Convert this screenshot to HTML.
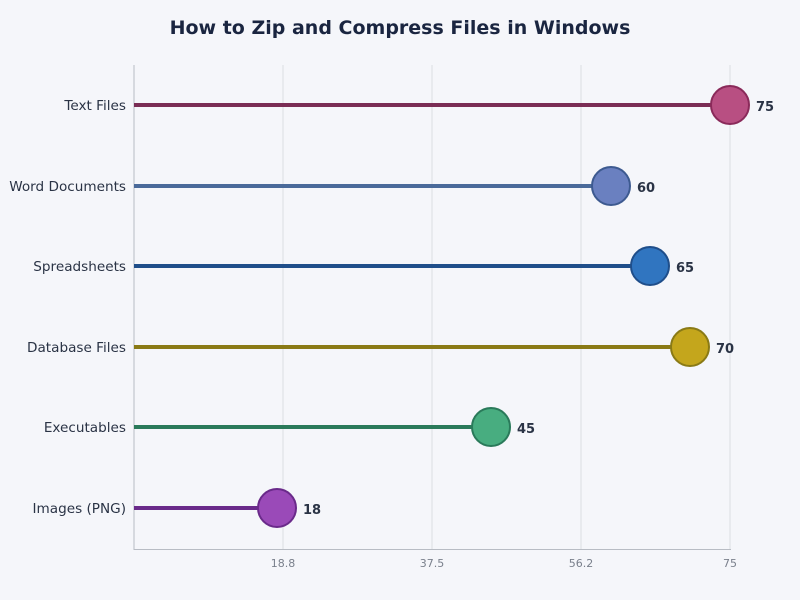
<!DOCTYPE html>
<html><head><meta charset="utf-8"><style>
body{margin:0;background:#f5f6fa;}
svg{display:block;font-family:"DejaVu Sans","Liberation Sans",sans-serif;}
</style></head><body>
<svg width="800" height="600" viewBox="0 0 800 600">
<rect width="800" height="600" fill="#f5f6fa"/>
<text x="400" y="34" text-anchor="middle" font-size="19" font-weight="bold" fill="#1a2540">How to Zip and Compress Files in Windows</text>
<g stroke="#dcdee3" stroke-width="1">
<line x1="283" y1="65" x2="283" y2="549"/>
<line x1="432" y1="65" x2="432" y2="549"/>
<line x1="581" y1="65" x2="581" y2="549"/>
<line x1="730" y1="65" x2="730" y2="549"/>
</g>
<line x1="134" y1="65" x2="134" y2="550" stroke="#b8bcc4" stroke-width="1"/>
<line x1="134" y1="549.5" x2="731" y2="549.5" stroke="#b8bcc4" stroke-width="1"/>
<g font-size="11" fill="#7a808c" text-anchor="middle">
<text x="283" y="567">18.8</text><text x="432" y="567">37.5</text><text x="581" y="567">56.2</text><text x="730" y="567">75</text>
</g>
<g font-size="13.6" fill="#2a3345" text-anchor="end">
<text x="126" y="110">Text Files</text>
<text x="126" y="191">Word Documents</text>
<text x="126" y="271">Spreadsheets</text>
<text x="126" y="352">Database Files</text>
<text x="126" y="432">Executables</text>
<text x="126" y="513">Images (PNG)</text>
</g>
<g stroke-width="4">
<line x1="134" y1="105" x2="730" y2="105" stroke="#7a2d55"/>
<line x1="134" y1="186" x2="611" y2="186" stroke="#4a6a9a"/>
<line x1="134" y1="266" x2="650" y2="266" stroke="#1f4e8a"/>
<line x1="134" y1="347" x2="690" y2="347" stroke="#8a7a15"/>
<line x1="134" y1="427" x2="491" y2="427" stroke="#2a7a5a"/>
<line x1="134" y1="508" x2="277" y2="508" stroke="#6a2a8a"/>
</g>
<g stroke-width="2">
<circle cx="730" cy="105" r="19" fill="#b84f82" stroke="#8a2a5a"/>
<circle cx="611" cy="186" r="19" fill="#6a80c0" stroke="#3d5a90"/>
<circle cx="650" cy="266" r="19" fill="#3075c0" stroke="#1f4e8a"/>
<circle cx="690" cy="347" r="19" fill="#c4a61c" stroke="#8a7a15"/>
<circle cx="491" cy="427" r="19" fill="#48ad80" stroke="#2a7a5a"/>
<circle cx="277" cy="508" r="19" fill="#9a4ab8" stroke="#6a2a8a"/>
</g>
<g font-size="13" font-weight="bold" fill="#2a3345">
<text x="756" y="111">75</text>
<text x="637" y="192">60</text>
<text x="676" y="272">65</text>
<text x="716" y="353">70</text>
<text x="517" y="433">45</text>
<text x="303" y="514">18</text>
</g>
</svg>
</body></html>
